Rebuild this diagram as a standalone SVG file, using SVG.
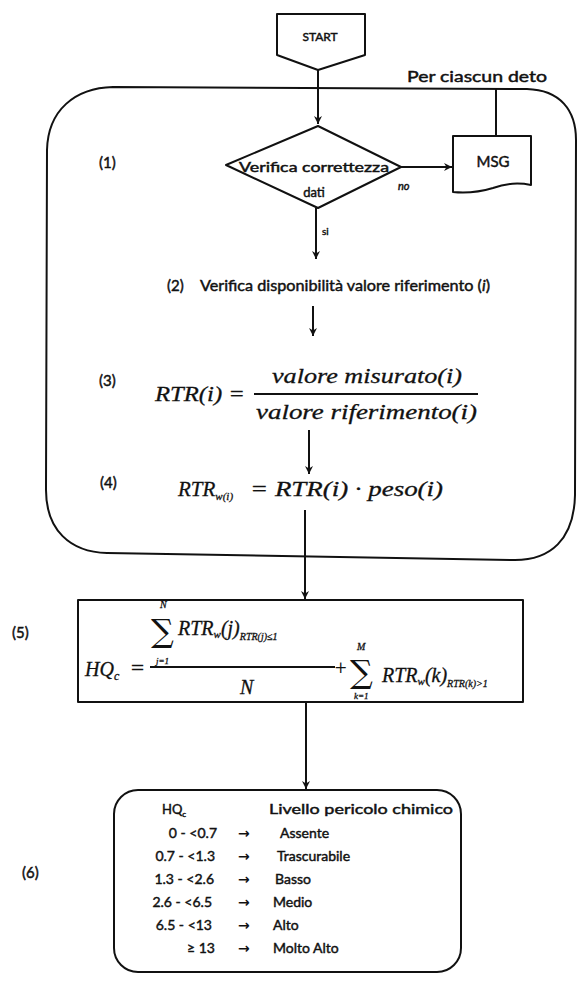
<svg xmlns="http://www.w3.org/2000/svg" width="577" height="984" viewBox="0 0 577 984">
<defs>
<marker id="ah" markerWidth="9" markerHeight="9" refX="8" refY="4.5" orient="auto" markerUnits="userSpaceOnUse">
<path d="M0,0.5 L8,4.5 L0,8.5 L2.5,4.5 Z" fill="#111"/>
</marker>
<style>
.ln{fill:none;stroke:#111;stroke-width:2;stroke-linejoin:round}
.t{font-family:Lato,"Open Sans","DejaVu Sans",sans-serif;font-weight:normal;fill:#111;stroke:#111;stroke-width:0.45}
.m{font-family:"Liberation Serif","DejaVu Serif",serif;font-style:italic;fill:#111;stroke:#111;stroke-width:0.3}
.s{font-family:"DejaVu Serif","Liberation Serif",serif;fill:#111}
.ar{font-family:"DejaVu Sans",sans-serif;font-size:14px;font-weight:bold;fill:#111}
</style>
</defs>
<rect width="577" height="984" fill="#fff"/>

<g id="loop">
<path class="ln" d="M113 87 L527 89 C560 90 576 110 576 140 L575 495 C574 540 550 560 515 560 L107 553 C70 552 46 530 46 490 L47 150 C48 110 75 88 113 87 Z"/>
<text class="t" x="407" y="82" font-size="15" textLength="140" lengthAdjust="spacingAndGlyphs">Per ciascun deto</text>
</g>

<g id="start">
<path class="ln" d="M277 14 L365 14 L365 55 L318 70 L277 55 Z"/>
<text class="t" x="320" y="41" font-size="12" text-anchor="middle" font-weight="bold">START</text>
</g>

<g id="step1">
<text class="t" x="99" y="168" font-size="15">(1)</text>
<path class="ln" d="M226 165 L318 126 L401 167 L318 208 Z"/>
<text class="t" x="314" y="172" font-size="13" text-anchor="middle" textLength="150" lengthAdjust="spacingAndGlyphs">Verifica correttezza</text>
<text class="t" x="314" y="197" font-size="13" text-anchor="middle">dati</text>
<text class="t" x="398" y="190" font-size="11" font-style="italic">no</text>
<text class="t" x="322" y="235" font-size="10">si</text>
</g>

<g id="msg">
<path class="ln" d="M453 136 L531 136 L531 185 Q512 181 493 188 Q473 194 453 192 Z"/>
<text class="t" x="493" y="167" font-size="15" text-anchor="middle">MSG</text>
</g>

<g id="step2">
<text class="t" x="167" y="291" font-size="15">(2)</text>
<text class="t" x="200" y="291" font-size="15" textLength="290" lengthAdjust="spacingAndGlyphs">Verifica disponibilità valore riferimento (<tspan font-style="italic">i</tspan>)</text>
</g>

<g id="step3">
<text class="t" x="99" y="386" font-size="15">(3)</text>
<text class="m" x="155" y="401" font-size="22" textLength="90" lengthAdjust="spacingAndGlyphs">RTR(i) =</text>
<text class="m" x="272" y="383" font-size="22" textLength="190" lengthAdjust="spacingAndGlyphs">valore misurato(i)</text>
<line class="ln" x1="254" y1="394" x2="478" y2="394"/>
<text class="m" x="256" y="419" font-size="22" textLength="221" lengthAdjust="spacingAndGlyphs">valore riferimento(i)</text>
</g>

<g id="step4">
<text class="t" x="100" y="488" font-size="15">(4)</text>
<text class="m" x="178" y="496" font-size="21">RTR<tspan font-size="11" dy="4">w(i)</tspan></text>
<text class="m" x="250" y="496" font-size="21" textLength="193" lengthAdjust="spacingAndGlyphs">= RTR(i) · peso(i)</text>
</g>

<g id="step5">
<text class="t" x="12" y="638" font-size="15">(5)</text>
<rect class="ln" x="78" y="600" width="445" height="102"/>
<text class="m" x="85" y="676" font-size="20">HQ<tspan font-size="12" dy="4">c</tspan></text>
<text class="s" x="130" y="674" font-size="18">=</text>
<text class="s" x="151" y="642" font-size="32">∑</text>
<text class="m" x="160" y="608" font-size="10">N</text>
<text class="m" x="156" y="664" font-size="9">j=1</text>
<text class="m" x="178" y="635" font-size="20">RTR<tspan font-size="11" dy="3">w</tspan><tspan dy="-3">(j)</tspan><tspan font-size="10" dy="5">RTR(j)≤1</tspan></text>
<line class="ln" x1="150" y1="667" x2="335" y2="667"/>
<text class="m" x="240" y="694" font-size="20">N</text>
<text class="s" x="334" y="673" font-size="16">+</text>
<text class="s" x="350" y="683" font-size="32">∑</text>
<text class="m" x="357" y="650" font-size="10">M</text>
<text class="m" x="354" y="699" font-size="9">k=1</text>
<text class="m" x="382" y="682" font-size="20">RTR<tspan font-size="11" dy="3">w</tspan><tspan dy="-3">(k)</tspan><tspan font-size="10" dy="5">RTR(k)&gt;1</tspan></text>
</g>

<g id="step6">
<text class="t" x="22" y="878" font-size="15">(6)</text>
<rect class="ln" x="114" y="790" width="347" height="182" rx="24"/>
<text class="t" x="162" y="814" font-size="13">HQ<tspan font-size="8" dy="3">c</tspan></text>
<text class="t" x="269" y="814" font-size="14" textLength="184" lengthAdjust="spacingAndGlyphs">Livello pericolo chimico</text>
<g class="t" font-size="14" text-anchor="end">
<text x="217" y="838">0 - &lt;0.7</text>
<text x="215" y="861">0.7 - &lt;1.3</text>
<text x="214" y="884">1.3 - &lt;2.6</text>
<text x="212" y="907">2.6 - &lt;6.5</text>
<text x="212" y="930">6.5 - &lt;13</text>
<text x="215" y="953">≥ 13</text>
</g>
<g class="ar">
<text x="238" y="838">→</text>
<text x="238" y="861">→</text>
<text x="238" y="884">→</text>
<text x="238" y="907">→</text>
<text x="238" y="930">→</text>
<text x="238" y="953">→</text>
</g>
<g class="t" font-size="14">
<text x="280" y="838">Assente</text>
<text x="277" y="861">Trascurabile</text>
<text x="275" y="884">Basso</text>
<text x="273" y="907">Medio</text>
<text x="273" y="930">Alto</text>
<text x="273" y="953">Molto Alto</text>
</g>
</g>

<g id="connectors">
<path class="ln" d="M318 70 V124" marker-end="url(#ah)"/>
<path class="ln" d="M401 167 H452" marker-end="url(#ah)"/>
<path class="ln" d="M496 136 V89"/>
<path class="ln" d="M316 208 V259" marker-end="url(#ah)"/>
<path class="ln" d="M313 306 V336" marker-end="url(#ah)"/>
<path class="ln" d="M309 430 V474" marker-end="url(#ah)"/>
<path class="ln" d="M305 510 V599" marker-end="url(#ah)"/>
<path class="ln" d="M306 703 V789" marker-end="url(#ah)"/>
</g>
</svg>
